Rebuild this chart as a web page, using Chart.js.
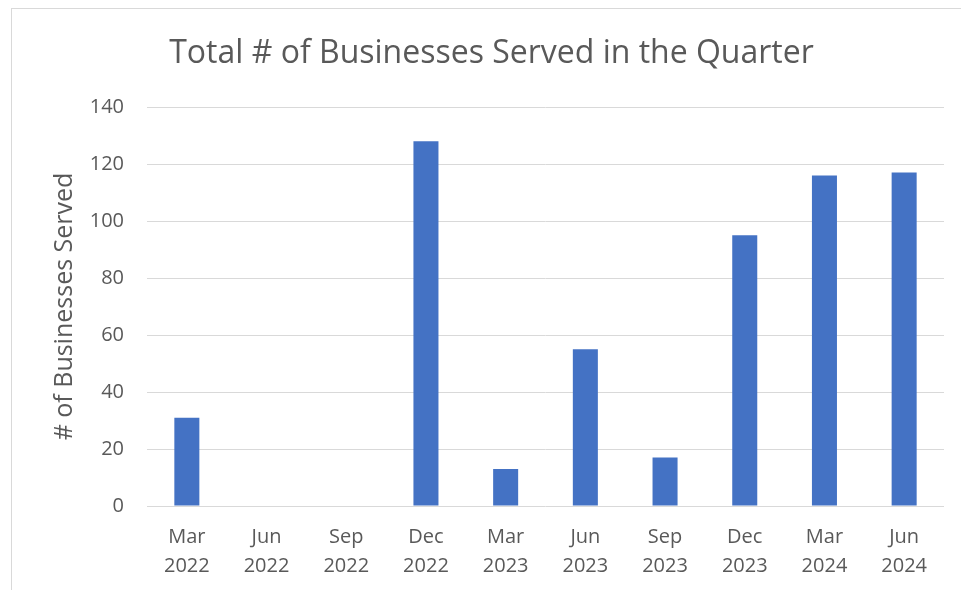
<!DOCTYPE html>
<html>
<head>
<meta charset="utf-8">
<script src="https://cdn.jsdelivr.net/npm/chart.js@4.4.1/dist/chart.umd.min.js"></script>
<style>
  html, body { margin: 0; padding: 0; background: #ffffff; overflow: hidden; }
  #wrap { position: relative; width: 961px; height: 590px; }
  #frame { position: absolute; left: 11px; top: 8px; width: 1100px; height: 700px;
           border-left: 1px solid #d9d9d9; border-top: 1px solid #d9d9d9; pointer-events: none; }
  canvas { position: absolute; left: 0; top: 0; }
</style>
</head>
<body>
<div id="wrap">
  <canvas id="c" width="961" height="590"></canvas>
  <div id="frame"></div>
</div>
<script>
const chartTitle = "Total # of Businesses Served in the Quarter";
const yAxisTitle = "# of Businesses Served";
const categories = [
  ["Mar", "2022"], ["Jun", "2022"], ["Sep", "2022"], ["Dec", "2022"], ["Mar", "2023"],
  ["Jun", "2023"], ["Sep", "2023"], ["Dec", "2023"], ["Mar", "2024"], ["Jun", "2024"]
];
const businessesServed = [31, 0, 0, 128, 13, 55, 17, 95, 116, 117];
const yTicks = [0, 20, 40, 60, 80, 100, 120, 140];

const FONT = "'Open Sans', sans-serif";
const TEXT = "#595959";

new Chart(document.getElementById("c"), {
  type: "bar",
  data: {
    labels: categories,
    datasets: [{
      data: businessesServed,
      backgroundColor: "#4472C4",
      borderWidth: 0,
      barPercentage: 0.314,
      categoryPercentage: 1.0
    }]
  },
  options: {
    responsive: false,
    animation: false,
    layout: { padding: { left: 39, right: 17, top: 0, bottom: 0 } },
    plugins: {
      legend: { display: false },
      tooltip: { enabled: false },
      title: {
        display: true,
        text: chartTitle,
        color: TEXT,
        font: { family: FONT, size: 32, weight: "normal", lineHeight: 1.2 },
        padding: { top: 35, bottom: 33.6 }
      }
    },
    scales: {
      x: {
        grid: { display: false, drawTicks: false },
        border: { display: false },
        ticks: {
          color: TEXT,
          font: { family: FONT, size: 20, lineHeight: 1.45 },
          padding: 17,
          maxRotation: 0,
          autoSkip: false
        },
        afterFit: (s) => { s.height = 84; }
      },
      y: {
        min: 0,
        max: 140,
        afterBuildTicks: (s) => { s.ticks = yTicks.map(v => ({ value: v })); },
        grid: { color: "#d9d9d9", lineWidth: 1, drawTicks: false },
        border: { display: false },
        ticks: {
          color: TEXT,
          font: { family: FONT, size: 20 },
          padding: 23
        },
        title: {
          display: true,
          text: yAxisTitle,
          color: TEXT,
          font: { family: FONT, size: 25, weight: "normal", lineHeight: 1.2 },
          padding: { top: 10.5, bottom: 0 }
        },
        afterFit: (s) => { s.width = 108; }
      }
    }
  }
});
</script>
</body>
</html>
